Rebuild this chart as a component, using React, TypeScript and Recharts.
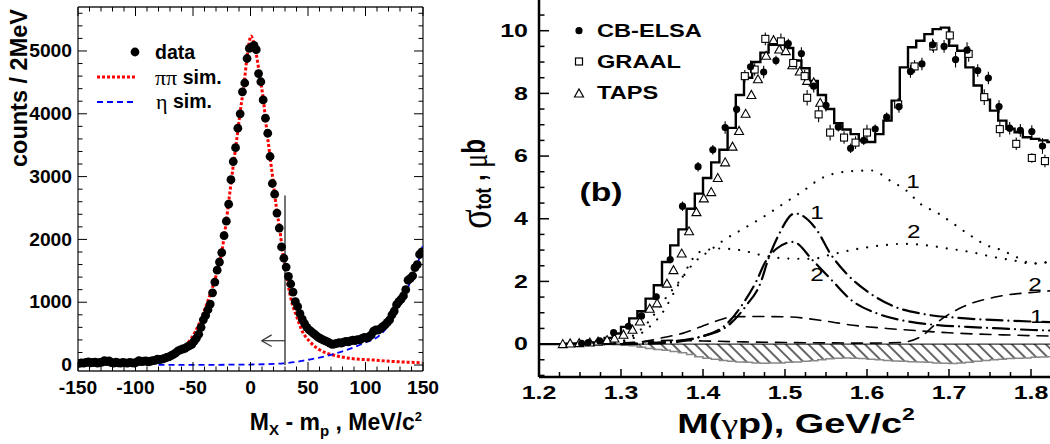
import React from "react";
import {
  Area,
  ComposedChart,
  Customized,
  ErrorBar,
  Line,
  ReferenceLine,
  Scatter,
  XAxis,
  YAxis,
} from "recharts";

// ---------- left panel: missing mass, 2 MeV bins ----------
const MM_FIRST_BIN = -149;
const MM_BIN_WIDTH = 2;
const mmCounts = [
  25, 35, 30, 40, 50, 35, 40, 45, 30, 40,
  45, 70, 55, 65, 40, 30, 45, 35, 30, 40,
  35, 30, 40, 35, 30, 45, 70, 55, 60, 65,
  50, 60, 70, 75, 95, 85, 95, 105, 120, 130,
  150, 170, 195, 225, 240, 255, 265, 290, 310, 330,
  380, 430, 490, 600, 720, 790, 880, 970, 1150, 1320,
  1510, 1640, 1790, 2060, 2290, 2560, 2950, 3240, 3460, 3770,
  4000, 4350, 4490, 4880, 5040, 5060, 5090, 5020, 4640, 4510,
  4220, 3930, 3690, 3320, 2890, 2720, 2420, 2180, 1880, 1700,
  1560, 1410, 1290, 1160, 1010, 930, 820, 730, 660, 600,
  560, 530, 500, 470, 440, 420, 400, 385, 370, 350,
  330, 335, 345, 355, 350, 365, 375, 370, 385, 395,
  390, 405, 400, 425, 440, 430, 450, 480, 540, 560,
  555, 580, 610, 640, 680, 720, 800, 860, 960, 1010,
  1050, 1100, 1200, 1350, 1380, 1420, 1550, 1600, 1760, 1800,
];

const pipiSim: [number, number][] = [
  [-80, 80], [-74, 115], [-68, 165], [-62, 240], [-55, 345], [-48, 530], [-41, 823],
  [-35, 1130], [-30, 1420], [-25, 1800], [-21.3, 2256], [-18.4, 2680], [-15.5, 3105],
  [-12.6, 3503], [-9.1, 4008], [-5.4, 4512], [-3.3, 4857], [-1.5, 5100], [0.4, 5239],
  [2.5, 5150], [5.4, 4909], [7.7, 4645], [11.2, 4220], [14.1, 3742], [17, 3317],
  [19.9, 2893], [22.8, 2468], [25.1, 2202], [28, 1800], [31, 1450], [35.8, 1008],
  [40.2, 770], [44.5, 557], [51.7, 371], [60.4, 239], [72, 159], [86.5, 106],
  [106.8, 80], [127.1, 53], [149, 37],
];

const etaSim: [number, number][] = [
  [-80, 2], [-40, 3], [-20, 5], [0, 8], [15, 14], [28.5, 27], [40, 50], [48.9, 80],
  [60, 118], [69.1, 159], [83.6, 239], [98.1, 345], [112.6, 478], [121.3, 664],
  [128.5, 903], [135, 1150], [140, 1370], [145, 1600], [150, 1911],
];

const CUT_X = 30;
const CUT_TOP = 2700;
const ARROW_Y = 387;
const ARROW_TIP = 9.7;
const ARROW_BACK = 18.4;
const ARROW_HALF = 93;

const LEFT_X_LABELS = [-150, -100, -50, 0, 50, 100, 150];
const LEFT_Y_LABELS = [0, 1000, 2000, 3000, 4000, 5000];

// ---------- right panel: total cross section ----------
const cbElsa: [number, number, number][] = [
  [1.252, 0.02, 0.02], [1.26, 0.05, 0.02], [1.274, 0.1, 0.03], [1.291, 0.37, 0.05],
  [1.309, 0.57, 0.05], [1.325, 0.9, 0.08], [1.343, 1.51, 0.1], [1.36, 2.7, 0.12],
  [1.375, 4.4, 0.15], [1.394, 5.66, 0.15], [1.412, 6.2, 0.15], [1.427, 6.91, 0.2],
  [1.441, 7.49, 0.15], [1.458, 8.85, 0.2], [1.474, 8.68, 0.2], [1.489, 9.05, 0.15],
  [1.504, 9.59, 0.15], [1.52, 9.27, 0.2], [1.535, 8.23, 0.2], [1.55, 7.62, 0.2],
  [1.565, 6.93, 0.15], [1.58, 6.25, 0.15], [1.596, 6.5, 0.15], [1.61, 6.86, 0.15],
  [1.624, 7.24, 0.15], [1.639, 7.58, 0.2], [1.653, 8.7, 0.2], [1.667, 8.94, 0.2],
  [1.68, 9.55, 0.2], [1.694, 9.5, 0.2], [1.708, 9.08, 0.25], [1.722, 9.38, 0.25],
  [1.735, 8.73, 0.2], [1.748, 8.49, 0.2], [1.761, 7.58, 0.2], [1.774, 6.89, 0.2],
  [1.787, 6.82, 0.2], [1.801, 6.78, 0.2], [1.814, 6.32, 0.25], [1.828, 6.45, 0.3],
];

const graal: [number, number, number][] = [
  [1.451, 8.55, 0.2], [1.463, 8.76, 0.2], [1.476, 9.74, 0.2], [1.495, 9.66, 0.25],
  [1.51, 8.97, 0.2], [1.524, 8.55, 0.2], [1.527, 7.86, 0.25], [1.541, 7.33, 0.25],
  [1.555, 6.75, 0.25], [1.572, 6.59, 0.2], [1.586, 6.43, 0.2], [1.6, 6.75, 0.25],
  [1.638, 7.65, 0.2], [1.658, 8.86, 0.2], [1.681, 9.5, 0.2], [1.701, 9.85, 0.25],
  [1.724, 9.26, 0.25], [1.743, 7.88, 0.25], [1.762, 6.86, 0.25], [1.782, 6.39, 0.2],
  [1.801, 5.94, 0.15], [1.817, 5.84, 0.2],
];

const taps: [number, number][] = [
  [1.229, 0.0], [1.238, 0.02], [1.249, 0.03], [1.262, 0.05], [1.272, 0.08], [1.283, 0.13],
  [1.292, 0.18], [1.303, 0.3], [1.314, 0.46], [1.323, 0.72], [1.335, 1.13], [1.344, 1.3],
  [1.356, 1.93], [1.364, 2.36], [1.374, 2.89], [1.383, 3.6], [1.392, 4.21], [1.401, 4.65],
  [1.41, 4.85], [1.418, 5.3], [1.427, 5.8], [1.436, 6.3], [1.444, 6.8], [1.452, 7.35],
  [1.459, 7.95], [1.467, 8.45], [1.477, 9.2], [1.486, 9.7], [1.493, 9.4], [1.501, 9.35],
  [1.509, 8.9], [1.518, 8.7], [1.527, 8.4], [1.535, 8.35], [1.543, 7.7],
];

// fit histogram and background band, 10 MeV bins starting at 1.20
const HIST_START = 1.2;
const HIST_BIN = 0.01;
const fitHist = [
  0, 0, 0, 0.01, 0.02,
  0.03, 0.05, 0.1, 0.2, 0.34,
  0.55, 0.82, 1.05, 1.45, 1.88,
  2.62, 3.15, 3.66, 4.32, 4.8,
  5.3, 5.8, 6.2, 6.9, 7.95,
  8.5, 9.0, 9.3, 9.55, 9.55,
  9.45, 9.05, 8.8, 8.4, 7.95,
  7.5, 7.05, 6.85, 6.7, 6.5,
  6.45, 6.7, 7.13, 7.77, 8.83,
  9.47, 9.68, 9.89, 10.05, 10.1,
  9.52, 9.36, 8.83, 8.25, 7.8,
  7.45, 7.13, 6.87, 6.76, 6.6,
  6.55, 6.5, 6.45, 6.4, 6.35,
];
const bgBand = [
  0, 0, 0, 0, 0,
  0, 0, -0.01, -0.01, -0.02,
  -0.03, -0.05, -0.1, -0.14, -0.17,
  -0.2, -0.24, -0.28, -0.33, -0.4,
  -0.45, -0.48, -0.52, -0.55, -0.57,
  -0.58, -0.6, -0.61, -0.6, -0.6,
  -0.58, -0.57, -0.55, -0.53, -0.5,
  -0.47, -0.45, -0.44, -0.45, -0.46,
  -0.48, -0.5, -0.52, -0.54, -0.55,
  -0.56, -0.57, -0.58, -0.6, -0.61,
  -0.62, -0.6, -0.58, -0.55, -0.52,
  -0.5, -0.48, -0.46, -0.45, -0.44,
  -0.42, -0.41, -0.4, -0.4, -0.4,
];

const dotted1: [number, number][] = [
  [1.28, 0], [1.3, 0.08], [1.335, 0.76], [1.354, 1.45], [1.372, 2.03], [1.39, 2.62],
  [1.409, 3.0], [1.425, 3.31], [1.449, 3.68], [1.473, 4.05], [1.498, 4.48], [1.52, 4.85],
  [1.545, 5.3], [1.581, 5.52], [1.606, 5.54], [1.628, 5.22], [1.648, 4.9], [1.665, 4.48],
  [1.687, 4.17], [1.705, 3.85], [1.726, 3.47], [1.746, 3.15], [1.764, 3.0], [1.782, 2.78],
  [1.802, 2.57], [1.823, 2.62], [1.85, 2.7],
];
const dotted2: [number, number][] = [
  [1.28, 0], [1.3, 0.05], [1.33, 0.45], [1.35, 0.98], [1.37, 1.9], [1.396, 2.94],
  [1.421, 3.05], [1.445, 3.0], [1.473, 2.83], [1.502, 2.73], [1.534, 2.72], [1.555, 2.85],
  [1.591, 3.05], [1.618, 3.15], [1.644, 3.2], [1.673, 3.15], [1.699, 3.05], [1.726, 2.94],
  [1.754, 2.78], [1.779, 2.67], [1.802, 2.57], [1.823, 2.62], [1.85, 2.7],
];
const dashDot1: [number, number][] = [
  [1.3, 0], [1.356, 0.07], [1.396, 0.23], [1.431, 0.6], [1.453, 1.24], [1.47, 1.94],
  [1.48, 2.74], [1.492, 3.47], [1.512, 4.17], [1.539, 3.63], [1.555, 2.9], [1.575, 2.25],
  [1.601, 1.67], [1.632, 1.21], [1.671, 0.95], [1.72, 0.82], [1.78, 0.74], [1.85, 0.68],
];
const dashDot2: [number, number][] = [
  [1.3, 0], [1.35, 0.03], [1.39, 0.18], [1.428, 0.62], [1.449, 1.3], [1.465, 2.0],
  [1.476, 2.62], [1.49, 3.05], [1.51, 3.26], [1.534, 2.67], [1.557, 2.04], [1.581, 1.4],
  [1.614, 0.96], [1.651, 0.72], [1.689, 0.6], [1.722, 0.55], [1.762, 0.5], [1.802, 0.45],
  [1.85, 0.42],
];
const dashed1: [number, number][] = [
  [1.28, 0], [1.3, 0.03], [1.327, 0.08], [1.35, 0.2], [1.376, 0.35], [1.409, 0.67],
  [1.437, 0.87], [1.47, 0.88], [1.502, 0.87], [1.551, 0.73], [1.583, 0.6], [1.624, 0.5],
  [1.665, 0.42], [1.7, 0.36], [1.76, 0.3], [1.8, 0.27], [1.85, 0.25],
];
const dashed2: [number, number][] = [
  [1.28, 0], [1.33, 0.08], [1.36, 0.12], [1.4, 0.1], [1.45, 0.07], [1.5, 0.05],
  [1.55, 0.04], [1.6, 0.03], [1.64, 0.05], [1.665, 0.23], [1.689, 0.76], [1.717, 1.19],
  [1.758, 1.51], [1.811, 1.67], [1.85, 1.75],
];
const curveTags = [
  { x: 1.656, y: 5.17, t: "1" },
  { x: 1.657, y: 3.58, t: "2" },
  { x: 1.539, y: 4.18, t: "1" },
  { x: 1.539, y: 2.2, t: "2" },
  { x: 1.805, y: 1.88, t: "2" },
  { x: 1.807, y: 0.87, t: "1" },
];

const RIGHT_X_LABELS = [1.2, 1.3, 1.4, 1.5, 1.6, 1.7, 1.8];
const RIGHT_Y_LABELS = [0, 2, 4, 6, 8, 10];

// ---------- layout ----------
const SANS = "'Liberation Sans', Arial, sans-serif";
const SERIF = "'Liberation Serif', 'Times New Roman', serif";
const LW = 442;
const LH = 444;
const L_PLOT_W = 345;
const L_PLOT_H = 364;
const RX0 = 440;
const RW = 650;
const RH = 444;
const STRETCH = 1.35;

const pts = (a: [number, number][]) => a.map(([x, y]) => ({ x, y }));
const mmData = mmCounts.map((y, i) => ({ x: MM_FIRST_BIN + i * MM_BIN_WIDTH, y }));
const binned = (vals: number[]) => {
  const out = vals.map((y, i) => ({ x: +(HIST_START + i * HIST_BIN).toFixed(3), y }));
  out.push({ x: +(HIST_START + vals.length * HIST_BIN).toFixed(3), y: vals[vals.length - 1] });
  return out;
};
const histData = binned(fitHist);
const bandData = binned(bgBand);

const range = (a: number, b: number, step: number) => {
  const out: number[] = [];
  for (let v = a; v <= b + step / 1000; v += step) out.push(+v.toFixed(4));
  return out;
};
const leftXTicks = range(-150, 150, 10);
const leftYTicks = range(0, 5600, 200);
const rightXTicks = range(1.2, 1.85, 0.025);
const rightYTicks = range(-1, 10.5, 0.5);

const near = (a: number[], v: number) => a.some((t) => Math.abs(t - v) < 1e-6);

type TickCfg = {
  labels: number[];
  fmt: (v: number) => string;
  major: number;
  minor: number;
  far: number;
  gap: number;
  size: number;
  sx: number;
  w: number;
};

function makeYTick(c: TickCfg) {
  return (props: any) => {
    const { x, y, payload } = props;
    const v = Number(payload.value);
    const isMajor = near(c.labels, v);
    const len = isMajor ? c.major : c.minor;
    return (
      <g>
        <line x1={x} y1={y} x2={x + len} y2={y} stroke="#000" strokeWidth={c.w} />
        {c.far > 0 ? (
          <line x1={x + c.far} y1={y} x2={x + c.far - len} y2={y} stroke="#000" strokeWidth={c.w} />
        ) : null}
        {isMajor ? (
          <text
            transform={`translate(${x - c.gap},${y}) scale(${c.sx},1)`}
            textAnchor="end"
            dominantBaseline="central"
            fontFamily={SANS}
            fontWeight="bold"
            fontSize={c.size}
            fill="#000"
          >
            {c.fmt(v)}
          </text>
        ) : null}
      </g>
    );
  };
}

function makeXTick(c: TickCfg) {
  return (props: any) => {
    const { x, y, payload } = props;
    const v = Number(payload.value);
    const isMajor = near(c.labels, v);
    const len = isMajor ? c.major : c.minor;
    return (
      <g>
        <line x1={x} y1={y} x2={x} y2={y - len} stroke="#000" strokeWidth={c.w} />
        {c.far > 0 ? (
          <line x1={x} y1={y - c.far} x2={x} y2={y - c.far + len} stroke="#000" strokeWidth={c.w} />
        ) : null}
        {isMajor ? (
          <text
            transform={`translate(${x},${y + c.gap}) scale(${c.sx},1)`}
            textAnchor="middle"
            dominantBaseline="central"
            fontFamily={SANS}
            fontWeight="bold"
            fontSize={c.size}
            fill="#000"
          >
            {c.fmt(v)}
          </text>
        ) : null}
      </g>
    );
  };
}

const leftYTick = makeYTick({
  labels: LEFT_Y_LABELS, fmt: (v) => String(v), major: 9, minor: 4.5,
  far: L_PLOT_W, gap: 6, size: 18, sx: 1.07, w: 1,
});
const leftXTick = makeXTick({
  labels: LEFT_X_LABELS, fmt: (v) => String(v), major: 9, minor: 4.5,
  far: L_PLOT_H, gap: 17, size: 18, sx: 1.07, w: 1,
});
const rightYTick = makeYTick({
  labels: RIGHT_Y_LABELS, fmt: (v) => String(v), major: 10, minor: 5.5,
  far: 0, gap: 11, size: 18.5, sx: STRETCH, w: 1.5,
});
const rightXTick = makeXTick({
  labels: RIGHT_X_LABELS, fmt: (v) => v.toFixed(1), major: 8, minor: 5,
  far: 0, gap: 16, size: 18.5, sx: STRETCH, w: 1.5,
});

function LeftOverlay() {
  return (
    <g fontFamily={SANS} fontWeight="bold" fill="#000">
      <circle cx={135} cy={52} r={4.4} fill="#000" />
      <text x={155} y={52} dominantBaseline="central" fontSize={19.5}>data</text>
      <line x1={97} x2={135} y1={77} y2={77} stroke="#ff0000" strokeWidth={3} strokeDasharray="3 2" />
      <text x={155} y={77} dominantBaseline="central" fontSize={19.5}>
        <tspan fontFamily={SERIF} fontWeight="normal" fontSize={22}>ππ</tspan>
        <tspan> sim.</tspan>
      </text>
      <line x1={97} x2={135} y1={102} y2={102} stroke="#0000ff" strokeWidth={1.8} strokeDasharray="6 4" />
      <text x={156} y={101} dominantBaseline="central" fontSize={19.5}>
        <tspan fontFamily={SERIF} fontWeight="normal" fontSize={22}>η</tspan>
        <tspan> sim.</tspan>
      </text>
      <text transform="translate(19,9) rotate(-90)" textAnchor="end" dominantBaseline="central" fontSize={23.5}>
        counts / 2MeV
      </text>
      <text x={422} y={430} textAnchor="end" fontSize={23}>
        M<tspan fontSize={15} dy={5}>X</tspan>
        <tspan dy={-5}> - m</tspan>
        <tspan fontSize={15} dy={6}>p</tspan>
        <tspan dy={-6}> , MeV/c</tspan>
        <tspan fontSize={13} dy={-9}>2</tspan>
      </text>
    </g>
  );
}

function RightOverlay() {
  const legendText = (y: number, label: string) => (
    <text
      transform={`translate(157,${y}) scale(${STRETCH},1)`}
      dominantBaseline="central"
      fontFamily={SANS}
      fontWeight="bold"
      fontSize={17.5}
      fill="#000"
    >
      {label}
    </text>
  );
  return (
    <g>
      <circle cx={139} cy={30.7} r={3.6} fill="#000" />
      {legendText(30.7, "CB-ELSA")}
      <rect x={135.5} y={58} width={7} height={7} fill="#fff" stroke="#000" strokeWidth={1.2} />
      {legendText(61.5, "GRAAL")}
      <path d="M134.5,97 L143.5,97 L139,89 Z" fill="#fff" stroke="#000" strokeWidth={1.2} />
      {legendText(93, "TAPS")}
      <text
        transform={`translate(161,192) scale(${STRETCH},1)`}
        textAnchor="middle"
        dominantBaseline="central"
        fontFamily={SANS}
        fontWeight="bold"
        fontSize={25}
      >
        (b)
      </text>
      <text
        transform={`translate(356,433) scale(${STRETCH},1)`}
        textAnchor="middle"
        fontFamily={SANS}
        fontWeight="bold"
        fontSize={28}
      >
        M(<tspan fontFamily={SERIF} fontWeight="normal">γ</tspan>p), GeV/c
        <tspan fontSize={17} dy={-13}>2</tspan>
      </text>
      <text
        transform={`translate(34,184) rotate(-90) scale(1,${STRETCH})`}
        textAnchor="middle"
        dominantBaseline="central"
        fontFamily={SANS}
        fontWeight="bold"
        fontSize={24}
      >
        <tspan fontFamily={SERIF} fontWeight="normal" fontSize={36}>σ</tspan>
        <tspan fontSize={17} dy={7}>tot</tspan>
        <tspan dy={-7}> , </tspan>
        <tspan fontFamily={SERIF} fontWeight="normal" fontSize={26}>μ</tspan>
        <tspan>b</tspan>
      </text>
    </g>
  );
}

function MissingMassChart() {
  return (
    <ComposedChart width={LW} height={LH} margin={{ top: 7, right: LW - 423, bottom: 43, left: 18 }}>
      <XAxis
        type="number"
        dataKey="x"
        domain={[-150, 150]}
        ticks={leftXTicks}
        interval={0}
        tickLine={false}
        tickSize={0}
        tickMargin={0}
        tick={leftXTick}
        axisLine={{ stroke: "#222", strokeWidth: 1.3 }}
        height={30}
        allowDataOverflow
      />
      <YAxis
        type="number"
        dataKey="y"
        domain={[-95, 5700]}
        ticks={leftYTicks}
        interval={0}
        tickLine={false}
        tickSize={0}
        tickMargin={0}
        tick={leftYTick}
        axisLine={{ stroke: "#222", strokeWidth: 1.3 }}
        width={60}
        allowDataOverflow
      />
      <ReferenceLine x={150} stroke="#222" strokeWidth={1.3} />
      <ReferenceLine y={5700} stroke="#222" strokeWidth={1.3} />
      <Scatter
        data={mmData}
        isAnimationActive={false}
        shape={(p: any) => <circle cx={p.cx} cy={p.cy} r={4.4} fill="#000" />}
      />
      <Line
        data={pts(pipiSim)}
        dataKey="y"
        type="monotone"
        stroke="#ff0000"
        strokeWidth={3}
        strokeDasharray="3 2"
        dot={false}
        isAnimationActive={false}
      />
      <Line
        data={pts(etaSim)}
        dataKey="y"
        type="monotone"
        stroke="#0000ff"
        strokeWidth={1.8}
        strokeDasharray="6 4"
        dot={false}
        isAnimationActive={false}
      />
      <ReferenceLine segment={[{ x: CUT_X, y: 0 }, { x: CUT_X, y: CUT_TOP }]} stroke="#444" strokeWidth={1.5} />
      <ReferenceLine segment={[{ x: ARROW_TIP, y: ARROW_Y }, { x: CUT_X, y: ARROW_Y }]} stroke="#333" strokeWidth={1.2} />
      <ReferenceLine
        segment={[{ x: ARROW_TIP, y: ARROW_Y }, { x: ARROW_BACK, y: ARROW_Y + ARROW_HALF }]}
        stroke="#333"
        strokeWidth={1.2}
      />
      <ReferenceLine
        segment={[{ x: ARROW_TIP, y: ARROW_Y }, { x: ARROW_BACK, y: ARROW_Y - ARROW_HALF }]}
        stroke="#333"
        strokeWidth={1.2}
      />
      <Customized component={LeftOverlay} />
    </ComposedChart>
  );
}

function CrossSectionChart() {
  const curve = (d: [number, number][], dash: string, w: number) => (
    <Line
      data={pts(d)}
      dataKey="y"
      type="monotone"
      stroke="#000"
      strokeWidth={w}
      strokeDasharray={dash}
      strokeLinecap="round"
      dot={false}
      isAnimationActive={false}
    />
  );
  return (
    <ComposedChart width={RW} height={RH} margin={{ top: 0, right: 18, bottom: 37, left: 39 }}>
      <defs>
        <pattern id="hatch" width={8} height={8} patternUnits="userSpaceOnUse" patternTransform="rotate(-45)">
          <line x1={1} y1={0} x2={1} y2={8} stroke="#000" strokeWidth={1.2} />
        </pattern>
      </defs>
      <XAxis
        type="number"
        dataKey="x"
        domain={[1.2, 1.85]}
        ticks={rightXTicks}
        interval={0}
        tickLine={false}
        tickSize={0}
        tickMargin={0}
        tick={rightXTick}
        axisLine={{ stroke: "#000", strokeWidth: 2.5 }}
        height={30}
        allowDataOverflow
      />
      <YAxis
        type="number"
        dataKey="y"
        domain={[-1.05, 10.98]}
        ticks={rightYTicks}
        interval={0}
        tickLine={false}
        tickSize={0}
        tickMargin={0}
        tick={rightYTick}
        axisLine={{ stroke: "#000", strokeWidth: 2.5 }}
        width={60}
        allowDataOverflow
      />
      <Area
        data={bandData}
        dataKey="y"
        type="stepAfter"
        baseValue={0}
        stroke="#888"
        strokeWidth={1.5}
        fill="url(#hatch)"
        fillOpacity={1}
        isAnimationActive={false}
      />
      <ReferenceLine y={0} stroke="#000" strokeWidth={1} />
      {curve(dotted1, "0.01 10", 2.2)}
      {curve(dotted2, "0.01 10", 2.2)}
      {curve(dashDot1, "16 6 0.01 6", 2.2)}
      {curve(dashDot2, "16 6 0.01 6", 2.2)}
      {curve(dashed1, "11 8", 1.6)}
      {curve(dashed2, "11 8", 1.6)}
      <Line
        data={histData}
        dataKey="y"
        type="stepAfter"
        stroke="#000"
        strokeWidth={2.4}
        dot={false}
        isAnimationActive={false}
      />
      <Scatter
        data={taps.map(([x, y]) => ({ x, y }))}
        isAnimationActive={false}
        shape={(p: any) => (
          <path
            d={`M${p.cx - 4.5},${p.cy + 3.5} L${p.cx + 4.5},${p.cy + 3.5} L${p.cx},${p.cy - 4.5} Z`}
            fill="#fff"
            stroke="#000"
            strokeWidth={1.1}
          />
        )}
      />
      <Scatter
        data={graal.map(([x, y, e]) => ({ x, y, e }))}
        isAnimationActive={false}
        shape={(p: any) => (
          <rect x={p.cx - 3.5} y={p.cy - 3.5} width={7} height={7} fill="#fff" stroke="#000" strokeWidth={1.1} />
        )}
      >
        <ErrorBar dataKey="e" direction="y" width={0} stroke="#000" strokeWidth={1.1} />
      </Scatter>
      <Scatter
        data={cbElsa.map(([x, y, e]) => ({ x, y, e }))}
        isAnimationActive={false}
        shape={(p: any) => <circle cx={p.cx} cy={p.cy} r={3.6} fill="#000" />}
      >
        <ErrorBar dataKey="e" direction="y" width={0} stroke="#000" strokeWidth={1.1} />
      </Scatter>
      <Scatter
        data={curveTags}
        isAnimationActive={false}
        shape={(p: any) => (
          <text
            transform={`translate(${p.cx},${p.cy}) scale(${STRETCH},1)`}
            textAnchor="middle"
            dominantBaseline="central"
            fontFamily={SANS}
            fontSize={18}
            fill="#000"
          >
            {p.payload.t}
          </text>
        )}
      />
      <Customized component={RightOverlay} />
    </ComposedChart>
  );
}

export default function App() {
  return (
    <div
      style={{
        position: "absolute",
        left: 0,
        top: 0,
        width: 1050,
        height: 444,
        overflow: "hidden",
        background: "#fff",
      }}
    >
      <div style={{ position: "absolute", left: 0, top: 0 }}>
        <MissingMassChart />
      </div>
      <div style={{ position: "absolute", left: RX0, top: 0 }}>
        <CrossSectionChart />
      </div>
    </div>
  );
}
